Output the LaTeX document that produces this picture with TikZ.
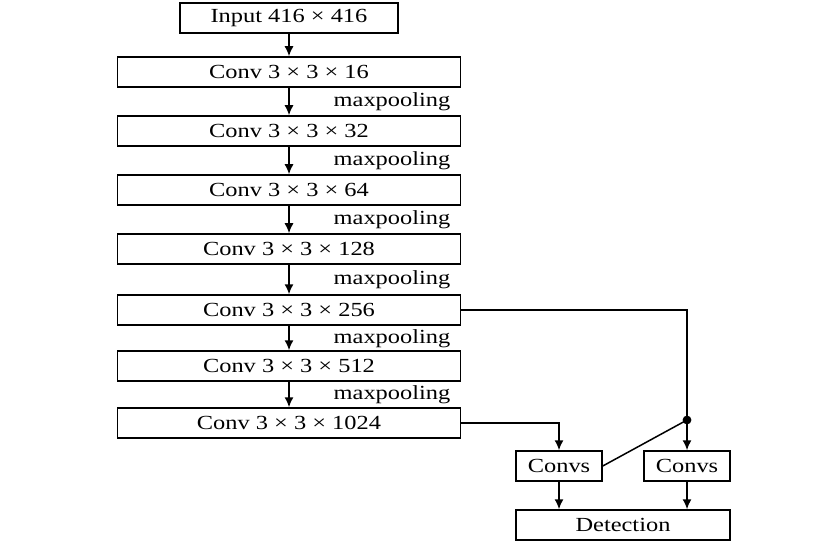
\documentclass[tikz,border=0pt]{standalone}
\usepackage{fontspec}
\setmainfont{Liberation Serif}[FakeStretch=1.22]
\usetikzlibrary{arrows.meta}

\begin{document}
\begin{tikzpicture}[x=0.5pt, y=-0.5pt, line width=0.75pt,
  box/.style={draw, minimum height=15pt, inner sep=0pt, font=\fontsize{10}{12}\selectfont},
  conv/.style={box, minimum width=171.5pt},
  pool/.style={anchor=east, inner sep=0pt, font=\fontsize{10}{12}\selectfont},
  >={Latex[length=5pt,width=4.5pt]}]
\useasboundingbox (0,0) rectangle (838,555);
% backbone
\node[box, minimum width=109pt] (in) at (289,18) {Input 416 × 416};
\node[conv] (c1) at (289,72)  {Conv 3 × 3 × 16};
\node[conv] (c2) at (289,131) {Conv 3 × 3 × 32};
\node[conv] (c3) at (289,190) {Conv 3 × 3 × 64};
\node[conv] (c4) at (289,249) {Conv 3 × 3 × 128};
\node[conv] (c5) at (289,310) {Conv 3 × 3 × 256};
\node[conv] (c6) at (289,366) {Conv 3 × 3 × 512};
\node[conv] (c7) at (289,423) {Conv 3 × 3 × 1024};
\node[pool] (p1) at (451,102) {maxpooling};
\node[pool] (p2) at (451,161) {maxpooling};
\node[pool] (p3) at (451,220) {maxpooling};
\node[pool] (p4) at (451,280) {maxpooling};
\node[pool] (p5) at (451,339) {maxpooling};
\node[pool] (p6) at (451,395) {maxpooling};
\draw[->] (in) -- (c1);
\draw[->] (c1) -- (c2);
\draw[->] (c2) -- (c3);
\draw[->] (c3) -- (c4);
\draw[->] (c4) -- (c5);
\draw[->] (c5) -- (c6);
\draw[->] (c6) -- (c7);
% heads
\node[box, minimum width=43pt] (cv1) at (559,466) {Convs};
\node[box, minimum width=43pt] (cv2) at (687,466) {Convs};
\node[box, minimum width=107pt] (det) at (623,525) {Detection};
\coordinate (jn) at (687,420);
\draw (c5.east) -| (jn);
\draw[->] (jn) -- (cv2);
\draw[->] (c7.east) -| (cv1.north);
\draw (cv1.east) -- (jn);
\fill (jn) circle (2.2pt);
\draw[->] (cv1.south) -- (cv1.south |- det.north);
\draw[->] (cv2.south) -- (cv2.south |- det.north);
\end{tikzpicture}
\end{document}
